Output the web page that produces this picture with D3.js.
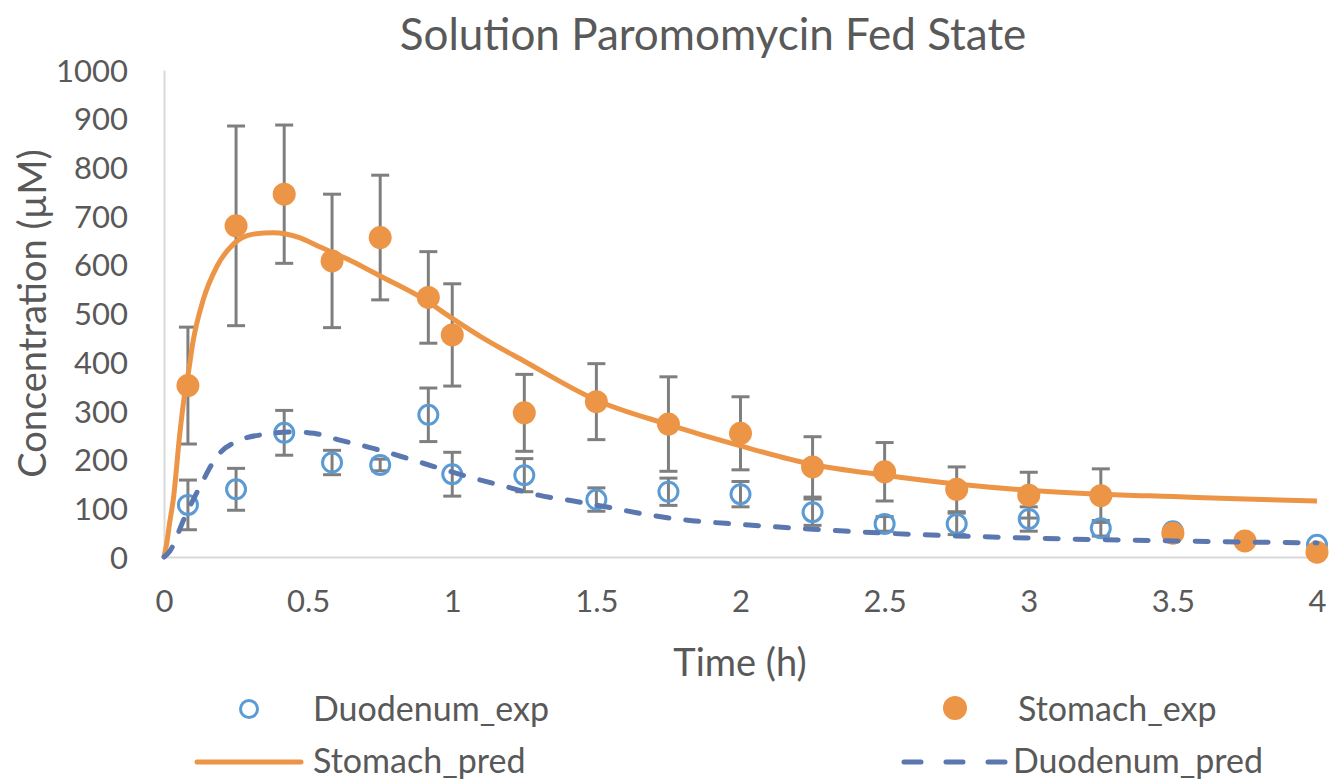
<!DOCTYPE html>
<html>
<head>
<meta charset="utf-8">
<script src="https://cdn.jsdelivr.net/npm/d3@7"></script>
<style>
  body { margin: 0; background: #fff; }
  text { font-family: Lato, "Open Sans", sans-serif; fill: #595959; }
</style>
</head>
<body>
<div id="chart"></div>
<script>
const WIDTH = 1331, HEIGHT = 781;
const MARGIN = {left: 164, right: 14, top: 70, bottom: 224};

// sampling times (h)
const times = [0.083, 0.25, 0.417, 0.583, 0.75, 0.917, 1, 1.25, 1.5, 1.75, 2, 2.25, 2.5, 2.75, 3, 3.25, 3.5, 3.75, 4];

// Stomach_exp mean and error
const stomachMean = [352, 680, 745, 608, 656, 533, 456, 296, 319, 273, 254, 185, 175, 139, 127, 126, 49, 33, 10];
const stomachErr  = [120, 205, 142, 137, 128, 94, 105, 79, 78, 97, 75, 62, 60, 46, 47, 55, 0, 0, 0];

// Duodenum_exp mean and error
const duodMean = [107, 139, 255, 194, 189, 292, 170, 168, 118, 134, 129, 92, 68, 68, 78, 59, 53, 33, 25];
const duodErr  = [51, 43, 46, 25, 12, 55, 45, 34, 24, 28, 26, 27, 15, 22, 25, 16, 0, 0, 0];

// model predictions [time, conc]
const stomachPred = [[0,0],[0.01,30],[0.02,72],[0.032,117],[0.055,254],[0.073,340],[0.085,380],[0.1,440],
  [0.136,528],[0.183,596],[0.24,642],[0.31,663],[0.38,666],[0.47,656],[0.54,637],[0.65,608],[0.75,577],
  [0.9,530],[1.0,490],[1.1,452],[1.25,402],[1.5,322],[1.75,272],[2.0,228],[2.25,190],[2.5,168],
  [2.75,150],[3.0,137],[3.25,129],[3.5,124],[3.75,119],[4.0,115]];
const duodPred = [[0,0],[0.02,12],[0.073,83],[0.125,145],[0.183,206],[0.264,240],[0.35,252],[0.45,257],
  [0.52,254],[0.61,240],[0.726,223],[0.842,203],[0.957,182],[1.073,162],[1.189,144],[1.3,127],
  [1.43,114],[1.56,100],[1.686,86],[1.81,76],[2.0,67],[2.25,57],[2.5,49],[3.0,39],[3.5,33],[4.0,29]];

const xTicks = [0, 0.5, 1, 1.5, 2, 2.5, 3, 3.5, 4];
const yTicks = [0, 100, 200, 300, 400, 500, 600, 700, 800, 900, 1000];

const ORANGE = '#ED9546', BLUE = '#5B9BD5', DASHBLUE = '#5A77B0', GREY = '#7F7F7F';

const svg = d3.select('#chart').append('svg')
  .attr('width', WIDTH).attr('height', HEIGHT);

const x = d3.scaleLinear().domain([0, 4]).range([MARGIN.left, WIDTH - MARGIN.right]);
const y = d3.scaleLinear().domain([0, 1000]).range([HEIGHT - MARGIN.bottom, MARGIN.top]);

// title
svg.append('text')
  .attr('x', 713).attr('y', 50)
  .attr('text-anchor', 'middle')
  .attr('font-size', '44px')
  .text('Solution Paromomycin Fed State');

// axes
const xAxis = svg.append('g')
  .attr('transform', `translate(0,${y(0)})`)
  .call(d3.axisBottom(x).tickValues(xTicks).tickSize(0).tickPadding(33).tickFormat(d3.format('')));
const yAxis = svg.append('g')
  .attr('transform', `translate(${x(0)},0)`)
  .call(d3.axisLeft(y).tickValues(yTicks).tickSize(0).tickPadding(36).tickFormat(d3.format('d')));
[xAxis, yAxis].forEach(a => {
  a.select('.domain').attr('stroke', '#D9D9D9').attr('stroke-width', 2);
  a.selectAll('text').attr('font-size', '31px').style('font-family', 'Lato, sans-serif').attr('fill', '#595959');
});
yAxis.selectAll('text').attr('dy', '0.36em');

// axis titles
svg.append('text')
  .attr('x', 740).attr('y', 676)
  .attr('text-anchor', 'middle')
  .attr('font-size', '38px')
  .text('Time (h)');
svg.append('text')
  .attr('transform', `translate(46,${(y(0) + y(1000)) / 2}) rotate(-90)`)
  .attr('text-anchor', 'middle')
  .attr('font-size', '38px')
  .text('Concentration (\u00b5M)');

// error bars
function errorBars(means, errs) {
  const g = svg.append('g').attr('stroke', GREY).attr('stroke-width', 3);
  times.forEach((t, i) => {
    if (!errs[i]) return;
    const cx = x(t), y1 = y(means[i] + errs[i]), y2 = y(Math.max(0, means[i] - errs[i]));
    g.append('line').attr('x1', cx).attr('x2', cx).attr('y1', y1).attr('y2', y2);
    g.append('line').attr('x1', cx - 9).attr('x2', cx + 9).attr('y1', y1).attr('y2', y1);
    g.append('line').attr('x1', cx - 9).attr('x2', cx + 9).attr('y1', y2).attr('y2', y2);
  });
}
errorBars(stomachMean, stomachErr);
errorBars(duodMean, duodErr);

// experimental points
svg.append('g').selectAll('circle').data(times).join('circle')
  .attr('cx', d => x(d)).attr('cy', (d, i) => y(duodMean[i]))
  .attr('r', 9.5).attr('fill', 'none').attr('stroke', BLUE).attr('stroke-width', 3);
svg.append('g').selectAll('circle').data(times).join('circle')
  .attr('cx', d => x(d)).attr('cy', (d, i) => y(stomachMean[i]))
  .attr('r', 11.5).attr('fill', ORANGE);

// predicted lines
const line = d3.line().x(d => x(d[0])).y(d => y(d[1])).curve(d3.curveMonotoneX);
svg.append('path').datum(stomachPred).attr('d', line)
  .attr('fill', 'none').attr('stroke', ORANGE).attr('stroke-width', 5).attr('stroke-linejoin', 'round');
svg.append('path').datum(duodPred).attr('d', line)
  .attr('fill', 'none').attr('stroke', DASHBLUE).attr('stroke-width', 5)
  .attr('stroke-linecap', 'round').attr('stroke-dasharray', '13,17');

// legend
const lg = svg.append('g');
lg.append('circle').attr('cx', 249).attr('cy', 709).attr('r', 8.5)
  .attr('fill', 'none').attr('stroke', BLUE).attr('stroke-width', 3);
lg.append('text').attr('x', 313).attr('y', 721).attr('font-size', '34px').text('Duodenum_exp');
lg.append('circle').attr('cx', 955).attr('cy', 708).attr('r', 12).attr('fill', ORANGE);
lg.append('text').attr('x', 1018).attr('y', 721).attr('font-size', '34px').text('Stomach_exp');
lg.append('line').attr('x1', 197).attr('x2', 301).attr('y1', 762).attr('y2', 762)
  .attr('stroke', ORANGE).attr('stroke-width', 5).attr('stroke-linecap', 'round');
lg.append('text').attr('x', 313).attr('y', 773).attr('font-size', '34px').text('Stomach_pred');
lg.append('line').attr('x1', 904).attr('x2', 1006).attr('y1', 762).attr('y2', 762)
  .attr('stroke', DASHBLUE).attr('stroke-width', 5)
  .attr('stroke-linecap', 'round').attr('stroke-dasharray', '17,25');
lg.append('text').attr('x', 1013).attr('y', 773).attr('font-size', '34px').text('Duodenum_pred');
</script>
</body>
</html>
